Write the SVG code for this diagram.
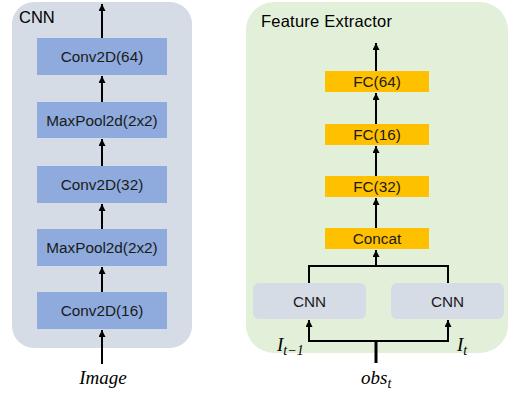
<svg xmlns="http://www.w3.org/2000/svg" width="510" height="395" viewBox="0 0 510 395">
<defs>
<marker id="ah" markerWidth="8" markerHeight="8" refX="7" refY="3.5" orient="auto" markerUnits="userSpaceOnUse">
<path d="M0,0 L7,3.5 L0,7 z" fill="#000"/>
</marker>
<style>
.blue{fill:#8faadc}
.gold{fill:#ffc000}
.cnn{fill:#d6dce5}
.t{font-family:"Liberation Sans",Arial,sans-serif;font-size:15.3px;fill:#1a1a1a;text-anchor:middle}
.title{font-family:"Liberation Sans",Arial,sans-serif;font-size:16.5px;fill:#000}
.m{font-family:"Liberation Serif","Times New Roman",serif;font-style:italic;font-size:19px;fill:#000}
.c{stroke:#000;stroke-width:2;fill:none}
</style>
</defs>
<g id="cnn-panel">
<rect x="12" y="2" width="180" height="346" rx="22" fill="#d6dce5"/>
<text class="title" x="19" y="23">CNN</text>
</g>
<g id="fe-panel">
<rect x="246" y="2" width="262" height="351" rx="28" fill="#e2f0d9"/>
<text class="title" x="261" y="27" textLength="131">Feature Extractor</text>
</g>
<g id="conv64"><rect class="blue" x="37" y="38" width="130" height="37"/><text class="t" x="102" y="62">Conv2D(64)</text></g>
<g id="maxpool1"><rect class="blue" x="37" y="102" width="130" height="36"/><text class="t" x="102" y="125.5">MaxPool2d(2x2)</text></g>
<g id="conv32"><rect class="blue" x="37" y="166" width="130" height="37"/><text class="t" x="102" y="190">Conv2D(32)</text></g>
<g id="maxpool2"><rect class="blue" x="37" y="229" width="130" height="37"/><text class="t" x="102" y="253">MaxPool2d(2x2)</text></g>
<g id="conv16"><rect class="blue" x="37" y="292" width="130" height="37"/><text class="t" x="102" y="316">Conv2D(16)</text></g>
<g id="image-label"><text class="m" x="103" y="384" text-anchor="middle">Image</text></g>
<g id="fc64"><rect class="gold" x="325" y="71" width="104" height="21"/><text class="t" x="377" y="87">FC(64)</text></g>
<g id="fc16"><rect class="gold" x="325" y="124" width="104" height="21"/><text class="t" x="377" y="140">FC(16)</text></g>
<g id="fc32"><rect class="gold" x="325" y="176" width="104" height="21"/><text class="t" x="377" y="192">FC(32)</text></g>
<g id="concat"><rect class="gold" x="325" y="228" width="104" height="21"/><text class="t" x="377" y="244">Concat</text></g>
<g id="cnn-left"><rect class="cnn" x="253" y="283" width="113" height="36" rx="6"/><text class="t" x="309.5" y="306.5">CNN</text></g>
<g id="cnn-right"><rect class="cnn" x="391" y="283" width="113" height="36" rx="6"/><text class="t" x="447.5" y="306.5">CNN</text></g>
<g id="math-labels">
<text class="m" x="277" y="351">I<tspan font-size="14" dy="4">t−1</tspan></text>
<text class="m" x="457" y="351">I<tspan font-size="14" dy="4">t</tspan></text>
<text class="m" x="361" y="384">obs<tspan font-size="14" dy="4">t</tspan></text>
</g>
<g id="connectors">
<line class="c" x1="102" y1="38" x2="102" y2="4" marker-end="url(#ah)"/>
<line class="c" x1="102" y1="102" x2="102" y2="76" marker-end="url(#ah)"/>
<line class="c" x1="102" y1="166" x2="102" y2="139" marker-end="url(#ah)"/>
<line class="c" x1="102" y1="229" x2="102" y2="204" marker-end="url(#ah)"/>
<line class="c" x1="102" y1="292" x2="102" y2="267" marker-end="url(#ah)"/>
<line class="c" x1="102" y1="364" x2="102" y2="330" marker-end="url(#ah)"/>
<line class="c" x1="376" y1="71" x2="376" y2="43" marker-end="url(#ah)"/>
<line class="c" x1="376" y1="124" x2="376" y2="93" marker-end="url(#ah)"/>
<line class="c" x1="376" y1="176" x2="376" y2="146" marker-end="url(#ah)"/>
<line class="c" x1="376" y1="228" x2="376" y2="198" marker-end="url(#ah)"/>
<polyline class="c" points="309,283 309,266 448,266 448,283"/>
<line class="c" x1="376" y1="266" x2="376" y2="250" marker-end="url(#ah)"/>
<line x1="376" y1="363" x2="376" y2="341" stroke="#000" stroke-width="3"/>
<polyline class="c" points="309,320 309,341 448,341 448,320"/>
<line class="c" x1="309" y1="341" x2="309" y2="320" marker-end="url(#ah)"/>
<line class="c" x1="448" y1="341" x2="448" y2="320" marker-end="url(#ah)"/>
</g>
</svg>
